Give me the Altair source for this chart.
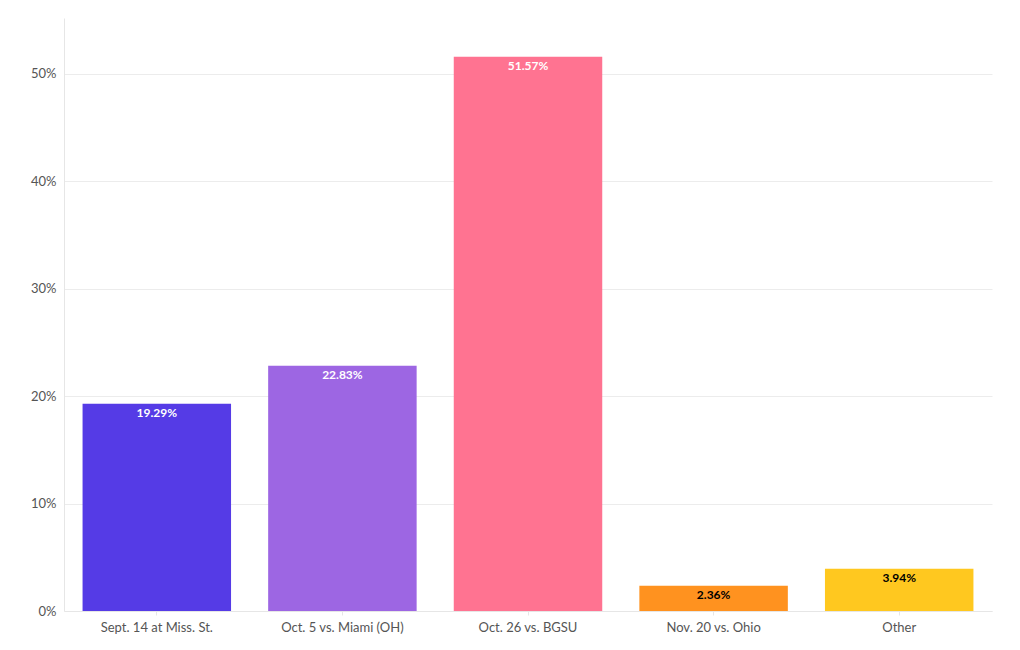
import altair as alt
import pandas as pd

categories = ["Sept. 14 at Miss. St.", "Oct. 5 vs. Miami (OH)", "Oct. 26 vs. BGSU", "Nov. 20 vs. Ohio", "Other"]
values = [0.1929, 0.2283, 0.5157, 0.0236, 0.0394]
colors = ["#553BE6", "#9D66E3", "#FF7391", "#FF921F", "#FFC81F"]
label_colors = ["white", "white", "white", "black", "black"]

df = pd.DataFrame({"cat": categories, "val": values, "color": colors, "lc": label_colors})
df["label"] = [f"{v*100:.2f}%" for v in values]

FONT = "Lato"

x = alt.X("cat:N", sort=categories, title=None,
          scale=alt.Scale(paddingInner=0.2, paddingOuter=0.1),
          axis=alt.Axis(labelAngle=0, labelFontSize=13, labelColor="#555555", labelFont=FONT,
                        domainColor="#e6e6e6", tickColor="#e6e6e6", tickSize=4, labelPadding=6))
y = alt.Y("val:Q", title=None,
          scale=alt.Scale(domain=[0, 0.5518], nice=False),
          axis=alt.Axis(format=".0%", values=[0, 0.1, 0.2, 0.3, 0.4, 0.5], labelFontSize=13,
                        labelColor="#555555", labelFont=FONT, gridColor="#ececec",
                        domainColor="#e6e6e6", ticks=False, labelPadding=8))

bars = alt.Chart(df).mark_bar().encode(
    x=x, y=y, color=alt.Color("color:N", scale=None)
)

text = alt.Chart(df).mark_text(baseline="top", dy=4, fontSize=12, fontWeight="bold", font=FONT).encode(
    x=alt.X("cat:N", sort=categories),
    y="val:Q",
    text="label:N",
    color=alt.Color("lc:N", scale=None),
)

chart = (bars + text).properties(
    width=928, height=593, autosize="none",
    padding={"left": 56, "top": 10, "right": 20, "bottom": 30},
).configure_view(stroke=None)

chart.save("out.html", embed_options={"renderer": "svg", "actions": False})
